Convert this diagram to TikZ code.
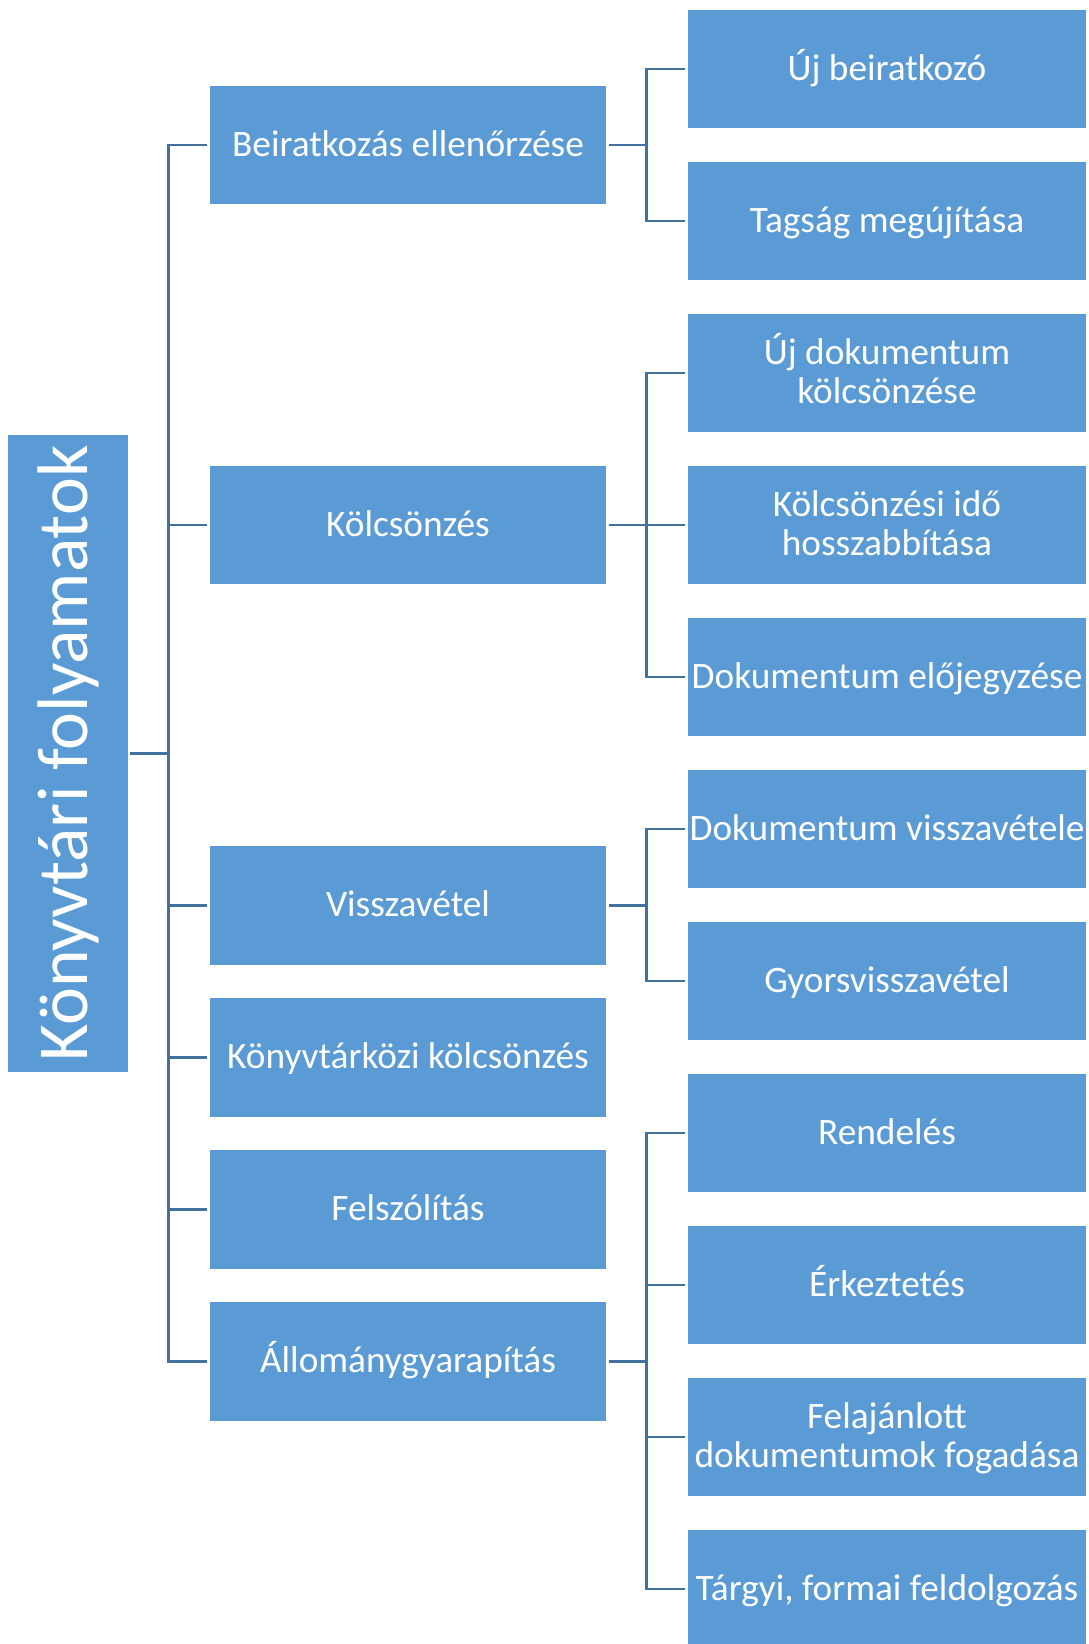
\documentclass[tikz,border=0pt]{standalone}
\usepackage{fontspec}
\setmainfont{Carlito}
\definecolor{boxblue}{HTML}{5B9BD5}
\definecolor{lineblue}{HTML}{41719C}
\newcommand\topstrut{\rule{0pt}{31pt}}
\newcommand\botstrut{\rule[-8.5pt]{0pt}{8.5pt}}
\newcommand\oneline[1]{\topstrut#1\botstrut}
\newcommand\twoline[2]{\topstrut#1\\#2\botstrut}
\begin{document}
\begin{tikzpicture}[x=1pt,y=1pt,
  box/.style={fill=boxblue,draw=none,inner sep=0pt,text=white,align=center,
    font=\fontsize{37.3}{39.3}\selectfont},
  midbox/.style={box,minimum width=396pt,minimum height=118.6pt},
  leafbox/.style={box,minimum width=398pt,minimum height=118.6pt},
  conn/.style={draw=lineblue,line width=2.5pt,shorten <=2.5pt,shorten >=2.5pt}]
\useasboundingbox (0,0) rectangle (1089,-1644);
\fill[white] (0,0) rectangle (1089,-1644);
% root
\node[box,minimum width=119.4pt,minimum height=637.3pt] (root) at (68,-753.3) {};
\node[text=white,rotate=90,font=\fontsize{71.7}{75}\selectfont,inner sep=0pt] (roottext) at (root.center) {Könyvtári folyamatok};
% middle column
\node[midbox] (m1) at (408,-144.8) {\oneline{Beiratkozás ellenőrzése}};
\node[midbox] (m2) at (408,-525) {\oneline{Kölcsönzés}};
\node[midbox] (m3) at (408,-905.3) {\oneline{Visszavétel}};
\node[midbox] (m4) at (408,-1057.3) {\oneline{Könyvtárközi kölcsönzés}};
\node[midbox] (m5) at (408,-1209.3) {\oneline{Felszólítás}};
\node[midbox] (m6) at (408,-1361.3) {\oneline{Állománygyarapítás}};
% right column
\node[leafbox] (l0) at (887,-69) {\oneline{Új beiratkozó}};
\node[leafbox] (l1) at (887,-221) {\oneline{Tagság megújítása}};
\node[leafbox] (l2) at (887,-373) {\twoline{Új dokumentum}{kölcsönzése}};
\node[leafbox] (l3) at (887,-525) {\twoline{Kölcsönzési idő}{hosszabbítása}};
\node[leafbox] (l4) at (887,-677) {\oneline{Dokumentum előjegyzése}};
\node[leafbox] (l5) at (887,-829) {\oneline{Dokumentum visszavétele}};
\node[leafbox] (l6) at (887,-981) {\oneline{Gyorsvisszavétel}};
\node[leafbox] (l7) at (887,-1133) {\oneline{Rendelés}};
\node[leafbox] (l8) at (887,-1285) {\oneline{Érkeztetés}};
\node[leafbox] (l9) at (887,-1437) {\twoline{Felajánlott}{dokumentumok fogadása}};
\node[leafbox] (l10) at (887,-1589) {\oneline{Tárgyi, formai feldolgozás}};
% bus coordinates
\coordinate (T) at (168.3,0);
\coordinate (B) at (646.7,0);
% root connectors
\foreach \m in {m1,m2,m3,m4,m5,m6}{
  \draw[conn,shorten >=0pt] (root.east) -- (root.east -| T);
  \draw[conn,shorten <=0pt] (root.east -| T) |- (\m.west);
}
% second-level connectors
\foreach \p/\c in {m1/l0,m1/l1,m2/l2,m2/l3,m2/l4,m3/l5,m3/l6,m6/l7,m6/l8,m6/l9,m6/l10}{
  \draw[conn,shorten >=0pt] (\p.east) -- (\p.east -| B);
  \draw[conn,shorten <=0pt] (\p.east -| B) |- (\c.west);
}
\end{tikzpicture}
\end{document}
